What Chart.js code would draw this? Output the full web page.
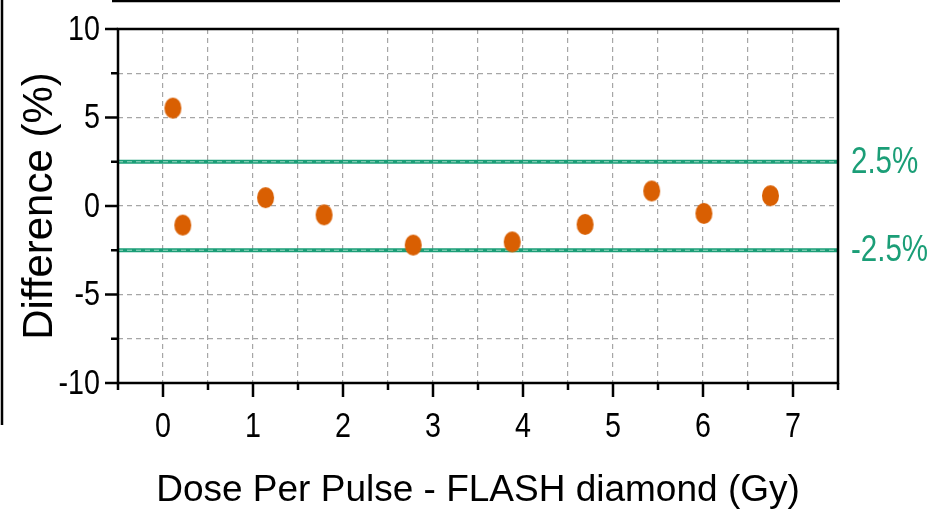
<!DOCTYPE html>
<html>
<head>
<meta charset="utf-8">
<script src="https://cdn.jsdelivr.net/npm/chart.js@4/dist/chart.umd.min.js"></script>
<style>
	html, body { margin: 0; padding: 0; background: #ffffff; }
	canvas { display: block; }
</style>
</head>
<body>
<canvas id="chart" width="927" height="519"></canvas>
<script>
// dose per pulse (Gy) and relative difference (%)
const dose_values = [0.11, 0.22, 1.14, 1.79, 2.78, 3.88, 4.69, 5.43, 6.01, 6.75];
const diff_values = [5.53, -1.08, 0.47, -0.50, -2.21, -2.03, -1.04, 0.85, -0.42, 0.58];
// tolerance band
const limit_values = [2.5, -2.5];
const limit_labels = ['2.5%', '-2.5%'];
const x_range = [-0.5, 7.5];
const y_range = [-10, 10];

const orange = '#d95f02';
const green = '#1b9e77';
const font_family = '"Liberation Sans", Arial, sans-serif';
// tick numbers are set in a condensed face
const narrow = 0.82;

// slightly tall oval marker
function makeMarker()
{
	let c = document.createElement('canvas');
	c.width = 19;
	c.height = 23;
	let g = c.getContext('2d');
	g.fillStyle = orange;
	g.beginPath();
	g.ellipse(9.5, 11.5, 8.5, 10.5, 0, 0, Math.PI * 2);
	g.fill();
	return c;
}

function narrowText(ctx, text, x, y, align)
{
	ctx.save();
	ctx.translate(x, y);
	ctx.scale(narrow, 1);
	ctx.textAlign = align;
	ctx.textBaseline = 'middle';
	ctx.fillText(text, 0, 0);
	ctx.restore();
}

let points = [];
for(let i = 0; i < dose_values.length; i++)
{
	points.push({x: dose_values[i], y: diff_values[i]});
}

let datasets = [];
for(let limit of limit_values)
{
	let span = [{x: x_range[0], y: limit}, {x: x_range[1], y: limit}];
	datasets.push(
		{
			type: 'line',
			data: span,
			borderColor: green,
			borderWidth: 4,
			pointRadius: 0,
			order: 3
		});
	// grid dashes showing through the band lines
	datasets.push(
		{
			type: 'line',
			data: span,
			borderColor: 'rgba(190, 230, 215, 0.8)',
			borderWidth: 1.2,
			borderDash: [5, 4],
			pointRadius: 0,
			order: 2
		});
}
datasets.push(
	{
		type: 'scatter',
		data: points,
		pointStyle: makeMarker(),
		pointRadius: 11,
		order: 1
	});

// box, tick marks, tick numbers, band labels and the panel edges
const decorations = {
	id: 'decorations',
	afterDraw(chart)
	{
		let ctx = chart.ctx;
		let area = chart.chartArea;
		let xs = chart.scales.x;
		let ys = chart.scales.y;
		ctx.save();
		ctx.strokeStyle = '#000000';
		ctx.lineWidth = 2.5;
		ctx.strokeRect(area.left, area.top, area.right - area.left, area.bottom - area.top);
		ctx.beginPath();
		for(let t of xs.ticks)
		{
			let px = xs.getPixelForValue(t.value);
			let len = (t.value % 1 === 0) ? 14 : 7;
			ctx.moveTo(px, area.bottom);
			ctx.lineTo(px, area.bottom + len);
		}
		for(let t of ys.ticks)
		{
			let py = ys.getPixelForValue(t.value);
			let len = (t.value % 5 === 0) ? 13 : 7;
			ctx.moveTo(area.left, py);
			ctx.lineTo(area.left - len, py);
		}
		ctx.stroke();
		// edges of the neighbouring panels
		ctx.beginPath();
		ctx.moveTo(112, 1);
		ctx.lineTo(840, 1);
		ctx.moveTo(2, 0);
		ctx.lineTo(2, 425);
		ctx.stroke();

		ctx.fillStyle = '#000000';
		ctx.font = '35px ' + font_family;
		for(let t of xs.ticks)
		{
			if(t.value % 1 === 0)
			{
				narrowText(ctx, String(t.value), xs.getPixelForValue(t.value), area.bottom + 44, 'center');
			}
		}
		for(let t of ys.ticks)
		{
			if(t.value % 5 === 0)
			{
				narrowText(ctx, String(t.value), area.left - 18, ys.getPixelForValue(t.value) + 1, 'right');
			}
		}

		ctx.fillStyle = green;
		ctx.font = '36px ' + font_family;
		for(let i = 0; i < limit_values.length; i++)
		{
			narrowText(ctx, limit_labels[i], area.right + 13, ys.getPixelForValue(limit_values[i]) + 1, 'left');
		}
		ctx.restore();
	}
};

const grid_style = {
	color: '#a6a6a6',
	lineWidth: 1.2,
	drawTicks: false
};

new Chart(document.getElementById('chart'),
	{
		data: {datasets: datasets},
		options:
			{
				responsive: false,
				animation: false,
				layout: {padding: {left: 0, top: 29, right: 89, bottom: 0}},
				plugins:
					{
						legend: {display: false},
						tooltip: {enabled: false}
					},
				scales:
					{
						x:
							{
								type: 'linear',
								min: x_range[0],
								max: x_range[1],
								grid: grid_style,
								border: {display: false, dash: [5, 4]},
								ticks: {display: false, stepSize: 0.5, autoSkip: false},
								title:
									{
										display: true,
										text: 'Dose Per Pulse - FLASH diamond (Gy)',
										color: '#000000',
										font: {family: font_family, size: 37},
										padding: {top: 0, bottom: 6}
									},
								afterFit: (scale) =>
									{
										scale.height = 136;
										scale.paddingLeft = 0;
										scale.paddingRight = 0;
									}
							},
						y:
							{
								type: 'linear',
								min: y_range[0],
								max: y_range[1],
								grid: grid_style,
								border: {display: false, dash: [5, 4]},
								ticks: {display: false, stepSize: 2.5, autoSkip: false},
								title:
									{
										display: true,
										text: 'Difference (%)',
										color: '#000000',
										font: {family: font_family, size: 42},
										padding: {top: 15, bottom: 0}
									},
								afterFit: (scale) =>
									{
										scale.width = 118;
										scale.paddingTop = 0;
										scale.paddingBottom = 0;
									}
							}
					}
			},
		plugins: [decorations]
	});
</script>
</body>
</html>
